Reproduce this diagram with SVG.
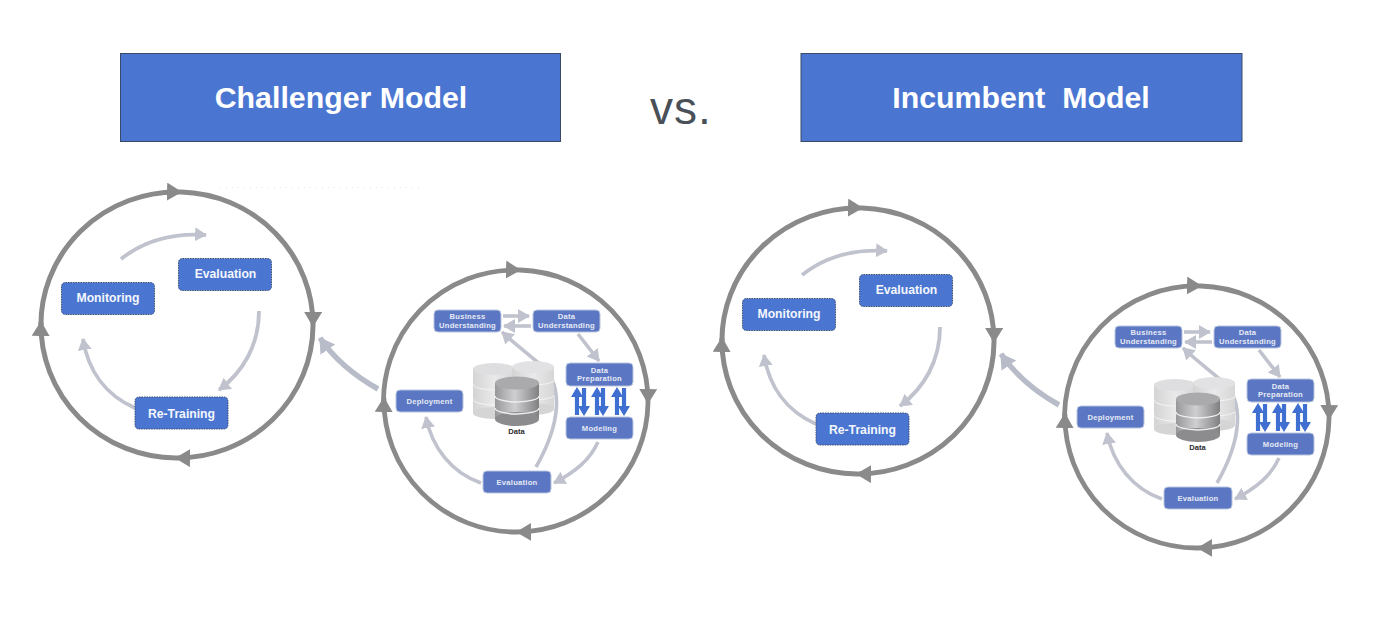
<svg xmlns="http://www.w3.org/2000/svg" width="1400" height="618" viewBox="0 0 1400 618">
<style>
text{font-family:"Liberation Sans",Arial,sans-serif;font-weight:700;text-anchor:middle}
.head{fill:#4a76d2;stroke:#3a4a66;stroke-width:1}
.headt{fill:#fff;font-size:30.300px}
.big{fill:#4a76d2;stroke:#3e4f70;stroke-width:1;stroke-dasharray:1.5 1}
.bigt{fill:#f4f6fc;font-size:12.200px}
.sm{fill:#5b77c4;stroke:#b9c4de;stroke-width:1}
.smt{fill:#e6eaf5;font-size:7.600px;letter-spacing:.25px}
.ring{fill:none;stroke:#8a8a8a;stroke-width:5}
.ring2{fill:none;stroke:#8a8a8a;stroke-width:4.800}
.flow{fill:none;stroke:#c0c3cd;stroke-width:3.800}
.flow2{fill:none;stroke:#c0c3cd;stroke-width:3.600}
.link{fill:none;stroke:#b8bcc8;stroke-width:5.500}
.blue{stroke:#3f6fd0;stroke-width:4.200;fill:none}
</style>
<defs>
<marker id="ringHead" markerUnits="userSpaceOnUse" markerWidth="18" markerHeight="20" refX="14" refY="9" orient="auto"><path d="M0,0L15,9L0,18Z" fill="#8a8a8a"/></marker>
<marker id="flowHead" markerUnits="userSpaceOnUse" markerWidth="15" markerHeight="15" refX="11" refY="7" orient="auto"><path d="M0,0L12,7L0,14Z" fill="#c0c3cd"/></marker>
<marker id="linkHead" markerUnits="userSpaceOnUse" markerWidth="17" markerHeight="19" refX="14" refY="9" orient="auto"><path d="M0,0L15,9L0,18Z" fill="#b8bcc8"/></marker>
<marker id="blueHead" markerUnits="userSpaceOnUse" markerWidth="14" markerHeight="13" refX="7" refY="6" orient="auto"><path d="M0,0L10,6L0,12Z" fill="#3f6fd0"/></marker>
<linearGradient id="back" x1="0" x2="1" y1="0" y2="0"><stop offset="0" stop-color="#d4d4d5"/><stop offset=".5" stop-color="#e9e9ea"/><stop offset="1" stop-color="#d6d6d7"/></linearGradient>
<linearGradient id="front" x1="0" x2="1" y1="0" y2="0"><stop offset="0" stop-color="#98989b"/><stop offset=".45" stop-color="#cfcfd1"/><stop offset="1" stop-color="#808083"/></linearGradient>
<g id="cyl">
<rect x="473" y="369" width="42" height="44" fill="url(#back)"/><ellipse cx="494" cy="413" rx="21" ry="6" fill="#d5d5d6"/><ellipse cx="494" cy="369" rx="21" ry="6" fill="#dedee0"/>
<rect x="512" y="367" width="42" height="42" fill="url(#back)"/><ellipse cx="533" cy="409" rx="21" ry="6" fill="#d5d5d6"/><ellipse cx="533" cy="367" rx="21" ry="6" fill="#e2e2e4"/>
<path d="M473,384a21,6 0 0 0 42,0M473,399a21,6 0 0 0 42,0M515,381a21,6 0 0 0 39,0M515,396a21,6 0 0 0 39,0" fill="none" stroke="#f4f4f5" stroke-width="1"/>
<rect x="495" y="383" width="44" height="36" fill="url(#front)"/><ellipse cx="517" cy="419" rx="22" ry="7" fill="#8c8c8f"/><ellipse cx="517" cy="383" rx="22" ry="6.500" fill="#aaaaad"/>
<path d="M495,396a22,6 0 0 0 44,0M495,408a22,6 0 0 0 44,0" fill="none" stroke="#eeeeef" stroke-width="1.300"/>
</g>
</defs>
<rect width="1400" height="618" fill="#fff"/>

<g id="challenger-title"><rect class="head" x="120.500" y="53.500" width="440" height="88"/><text class="headt" x="341" y="108">Challenger Model</text></g>
<g id="vs"><text x="681" y="124" style="font-weight:400;font-size:46px;letter-spacing:1px;fill:#4a5058">vs.</text></g>
<g id="incumbent-title"><rect class="head" x="801" y="53.500" width="441" height="88"/><text class="headt" x="1021" y="108" xml:space="preserve">Incumbent  Model</text></g>
<line x1="220" y1="187.500" x2="420" y2="187.500" stroke="#e6e6e6" stroke-width="1" stroke-dasharray="1 5"/>

<g id="connectors-challenger">
<path class="ring" marker-end="url(#ringHead)" d="M41,329A136,133 0 0 1 181,192"/>
<path class="ring" marker-end="url(#ringHead)" d="M181,192A136,133 0 0 1 313,326"/>
<path class="ring" marker-end="url(#ringHead)" d="M313,326A136,133 0 0 1 176,458"/>
<path class="ring" marker-end="url(#ringHead)" d="M176,458A136,133 0 0 1 41,322"/>
<path class="flow" marker-end="url(#flowHead)" d="M121,259C145,240 175,233 206,235"/>
<path class="flow" marker-end="url(#flowHead)" d="M259,311C259,345 243,372 219,390"/>
<path class="flow" marker-end="url(#flowHead)" d="M135,408C105,395 88,370 83,339"/>
<path class="link" marker-end="url(#linkHead)" d="M378,389C355,376 335,360 320,338"/>
<path class="ring2" marker-end="url(#ringHead)" d="M384,412A132,131 0 0 1 520,270"/>
<path class="ring2" marker-end="url(#ringHead)" d="M520,270A132,131 0 0 1 648,403"/>
<path class="ring2" marker-end="url(#ringHead)" d="M648,403A132,131 0 0 1 517,532"/>
<path class="ring2" marker-end="url(#ringHead)" d="M517,532A132,131 0 0 1 384,398"/>
<path class="flow2" marker-end="url(#flowHead)" d="M503,316H529"/>
<path class="flow2" marker-end="url(#flowHead)" d="M531,326H504"/>
<path class="flow2" marker-end="url(#flowHead)" d="M578,334L599,361"/>
<path class="flow2" marker-end="url(#flowHead)" d="M598,442C590,460 575,472 554,483"/>
<path class="flow2" marker-end="url(#flowHead)" d="M481,483C452,473 432,448 426,417"/>
<path class="flow2" marker-end="url(#flowHead)" d="M536,467C560,425 565,385 540,364C528,354 515,344 502,332"/>
<path class="blue" marker-end="url(#blueHead)" d="M577,415V390"/>
<path class="blue" marker-end="url(#blueHead)" d="M584,388V413"/>
<path class="blue" marker-end="url(#blueHead)" d="M597,415V390"/>
<path class="blue" marker-end="url(#blueHead)" d="M603,388V413"/>
<path class="blue" marker-end="url(#blueHead)" d="M617,415V390"/>
<path class="blue" marker-end="url(#blueHead)" d="M624,388V413"/>
</g>

<g id="ch-evaluation"><rect class="big" x="178.500" y="258.500" width="93" height="32" rx="4"/><text class="bigt" x="225.500" y="278">Evaluation</text></g>
<g id="ch-monitoring"><rect class="big" x="61.500" y="282.500" width="93" height="32" rx="4"/><text class="bigt" x="108" y="302">Monitoring</text></g>
<g id="ch-retraining"><rect class="big" x="135" y="397" width="93" height="32" rx="4"/><text class="bigt" x="181.500" y="417.500">Re-Training</text></g>
<g id="ch-data"><use href="#cyl"/><text x="516.500" y="434" style="font-size:7.600px;fill:#2c2c30">Data</text></g>
<g id="ch-business"><rect class="sm" x="434" y="310" width="67" height="22" rx="4"/><text class="smt" x="467.500" y="319">Business</text><text class="smt" x="467.500" y="327.500">Understanding</text></g>
<g id="ch-dataunderstanding"><rect class="sm" x="533" y="310" width="67" height="22" rx="4"/><text class="smt" x="566.500" y="319">Data</text><text class="smt" x="566.500" y="327.500">Understanding</text></g>
<g id="ch-datapreparation"><rect class="sm" x="566" y="363" width="67" height="23" rx="4"/><text class="smt" x="599.500" y="372.500">Data</text><text class="smt" x="599.500" y="381">Preparation</text></g>
<g id="ch-modeling"><rect class="sm" x="566" y="417" width="67" height="22" rx="4"/><text class="smt" x="599.500" y="431">Modeling</text></g>
<g id="ch-deployment"><rect class="sm" x="396" y="390" width="67" height="22" rx="4"/><text class="smt" x="429.500" y="403.500">Deployment</text></g>
<g id="ch-evaluation2"><rect class="sm" x="483" y="471" width="68" height="22" rx="4"/><text class="smt" x="517" y="484.500">Evaluation</text></g>

<g transform="translate(681 16)">
<g id="connectors-incumbent">
<path class="ring" marker-end="url(#ringHead)" d="M41,329A136,133 0 0 1 181,192"/>
<path class="ring" marker-end="url(#ringHead)" d="M181,192A136,133 0 0 1 313,326"/>
<path class="ring" marker-end="url(#ringHead)" d="M313,326A136,133 0 0 1 176,458"/>
<path class="ring" marker-end="url(#ringHead)" d="M176,458A136,133 0 0 1 41,322"/>
<path class="flow" marker-end="url(#flowHead)" d="M121,259C145,240 175,233 206,235"/>
<path class="flow" marker-end="url(#flowHead)" d="M259,311C259,345 243,372 219,390"/>
<path class="flow" marker-end="url(#flowHead)" d="M135,408C105,395 88,370 83,339"/>
<path class="link" marker-end="url(#linkHead)" d="M378,389C355,376 335,360 320,338"/>
<path class="ring2" marker-end="url(#ringHead)" d="M384,412A132,131 0 0 1 520,270"/>
<path class="ring2" marker-end="url(#ringHead)" d="M520,270A132,131 0 0 1 648,403"/>
<path class="ring2" marker-end="url(#ringHead)" d="M648,403A132,131 0 0 1 517,532"/>
<path class="ring2" marker-end="url(#ringHead)" d="M517,532A132,131 0 0 1 384,398"/>
<path class="flow2" marker-end="url(#flowHead)" d="M503,316H529"/>
<path class="flow2" marker-end="url(#flowHead)" d="M531,326H504"/>
<path class="flow2" marker-end="url(#flowHead)" d="M578,334L599,361"/>
<path class="flow2" marker-end="url(#flowHead)" d="M598,442C590,460 575,472 554,483"/>
<path class="flow2" marker-end="url(#flowHead)" d="M481,483C452,473 432,448 426,417"/>
<path class="flow2" marker-end="url(#flowHead)" d="M536,467C560,425 565,385 540,364C528,354 515,344 502,332"/>
<path class="blue" marker-end="url(#blueHead)" d="M577,415V390"/>
<path class="blue" marker-end="url(#blueHead)" d="M584,388V413"/>
<path class="blue" marker-end="url(#blueHead)" d="M597,415V390"/>
<path class="blue" marker-end="url(#blueHead)" d="M603,388V413"/>
<path class="blue" marker-end="url(#blueHead)" d="M617,415V390"/>
<path class="blue" marker-end="url(#blueHead)" d="M624,388V413"/>
</g>
<g id="in-evaluation"><rect class="big" x="178.500" y="258.500" width="93" height="32" rx="4"/><text class="bigt" x="225.500" y="278">Evaluation</text></g>
<g id="in-monitoring"><rect class="big" x="61.500" y="282.500" width="93" height="32" rx="4"/><text class="bigt" x="108" y="302">Monitoring</text></g>
<g id="in-retraining"><rect class="big" x="135" y="397" width="93" height="32" rx="4"/><text class="bigt" x="181.500" y="417.500">Re-Training</text></g>
<g id="in-data"><use href="#cyl"/><text x="516.500" y="434" style="font-size:7.600px;fill:#2c2c30">Data</text></g>
<g id="in-business"><rect class="sm" x="434" y="310" width="67" height="22" rx="4"/><text class="smt" x="467.500" y="319">Business</text><text class="smt" x="467.500" y="327.500">Understanding</text></g>
<g id="in-dataunderstanding"><rect class="sm" x="533" y="310" width="67" height="22" rx="4"/><text class="smt" x="566.500" y="319">Data</text><text class="smt" x="566.500" y="327.500">Understanding</text></g>
<g id="in-datapreparation"><rect class="sm" x="566" y="363" width="67" height="23" rx="4"/><text class="smt" x="599.500" y="372.500">Data</text><text class="smt" x="599.500" y="381">Preparation</text></g>
<g id="in-modeling"><rect class="sm" x="566" y="417" width="67" height="22" rx="4"/><text class="smt" x="599.500" y="431">Modeling</text></g>
<g id="in-deployment"><rect class="sm" x="396" y="390" width="67" height="22" rx="4"/><text class="smt" x="429.500" y="403.500">Deployment</text></g>
<g id="in-evaluation2"><rect class="sm" x="483" y="471" width="68" height="22" rx="4"/><text class="smt" x="517" y="484.500">Evaluation</text></g>
</g>
</svg>
